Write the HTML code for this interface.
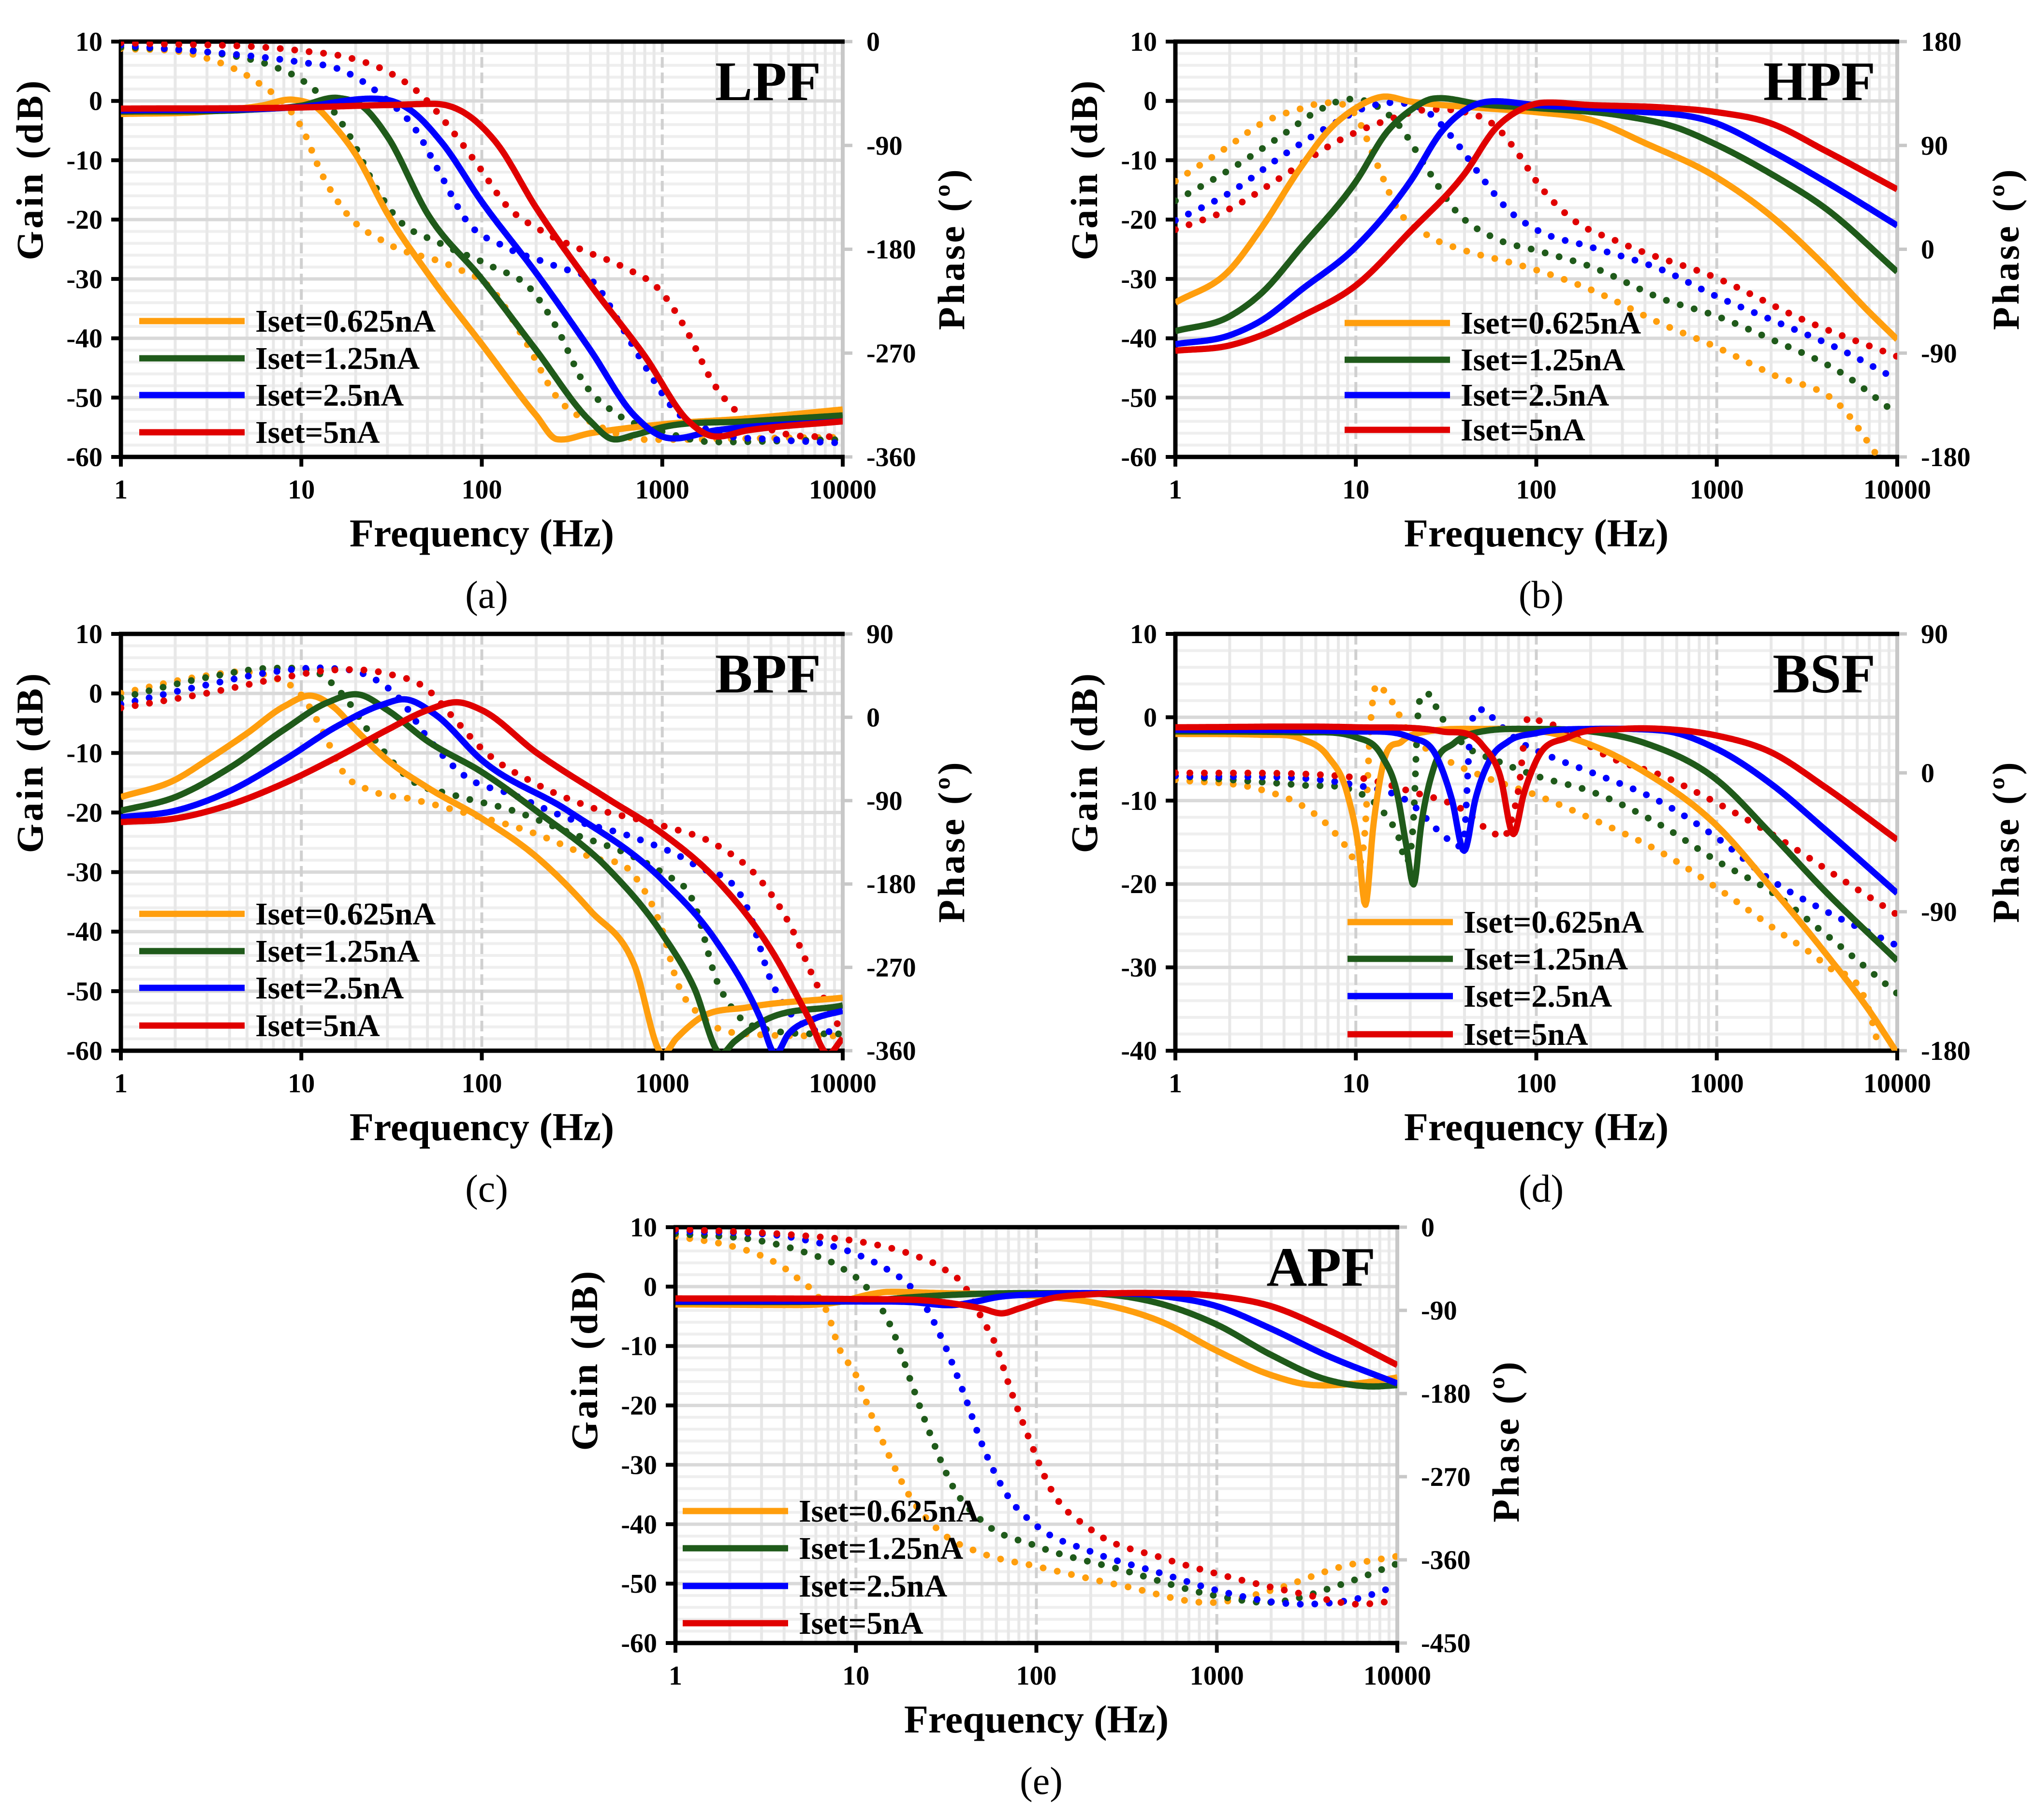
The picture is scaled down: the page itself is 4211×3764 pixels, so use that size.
<!DOCTYPE html>
<html><head><meta charset="utf-8"><style>
html,body{margin:0;padding:0;background:#fff;}
svg{display:block;}
text{font-family:"Liberation Serif",serif;}
</style></head><body>
<svg id="fig" xmlns="http://www.w3.org/2000/svg" width="4211" height="3764" viewBox="0 0 4211 3764"></svg>
<script>
// ===== Data arrays (frequency Hz, value) =====
const seriesLabels = ["Iset=0.625nA","Iset=1.25nA","Iset=2.5nA","Iset=5nA"];
const xTickLabels = ["1","10","100","1000","10000"];

// LPF gain (dB)
const lpfGain0 = [[1,-2.2],[3,-1.8],[6,-0.8],[9,0.2],[12,-1],[15,-4],[20,-9],[30,-19],[50,-29],[100,-41],[200,-53],[260,-57],[400,-56],[1000,-54.5],[3000,-53.5],[10000,-52]];
const lpfGain1 = [[1,-1.8],[5,-1.5],[10,-0.8],[16,0.5],[22,-1],[30,-6],[50,-19],[100,-30],[200,-42],[400,-54],[530,-57],[700,-56.3],[1000,-55],[3000,-54],[10000,-53]];
const lpfGain2 = [[1,-1.6],[10,-1],[28,0.3],[40,-1.5],[60,-7],[100,-17],[200,-29],[400,-42],[700,-53],[1070,-56.8],[2000,-55.5],[10000,-54]];
const lpfGain3 = [[1,-1.3],[10,-1.1],[30,-0.7],[55,-0.5],[80,-2],[120,-7],[200,-18],[400,-31],[800,-43],[1400,-54],[1900,-56.5],[3000,-55.5],[10000,-54]];
// LPF phase (deg)
const lpfPhase0 = [[1,-6],[2.5,-11],[5.8,-36],[8.5,-58],[10,-74],[13,-115],[17.6,-148],[30,-175],[69,-195],[114,-215],[172,-258],[260,-308],[430,-332],[830,-345],[10000,-343]];
const lpfPhase1 = [[1,-5],[3,-9],[7.4,-23],[10,-33],[13,-48],[18.4,-81],[25.6,-125],[33,-151],[59,-175],[114,-195],[188,-215],[260,-248],[365,-295],[550,-322],[1000,-338],[1900,-347],[10000,-345]];
const lpfPhase2 = [[1,-3],[10,-18],[15.6,-23],[30,-51],[42,-74],[59,-115],[82,-155],[135,-178],[260,-195],[430,-211],[600,-248],[830,-285],[1150,-318],[1900,-338],[4300,-345],[10000,-348]];
const lpfPhase3 = [[1,-1],[10,-8],[18.4,-14],[30,-26],[46,-46],[69,-78],[99,-111],[135,-141],[220,-165],[365,-181],[600,-195],[1000,-218],[1370,-251],[1900,-295],[2640,-322],[4300,-338],[10000,-343]];

// HPF gain
const hpfGain0 = [[1,-34],[2,-28.5],[3,-21.4],[5,-11],[7,-5.1],[10,-1.2],[14,0.7],[20,-0.1],[50,-1.2],[100,-1.9],[200,-3.2],[400,-7.1],[1000,-12.9],[2000,-19.4],[4000,-27.9],[7000,-35.6],[10000,-40.2]];
const hpfGain1 = [[1,-38.8],[2,-36.3],[3,-32.4],[5,-24.6],[10,-13.6],[15,-5.1],[20,-1.6],[27,0.4],[50,-0.6],[100,-1.2],[300,-2.5],[600,-4.5],[1000,-7.4],[2000,-12.3],[4000,-18.1],[10000,-28.8]];
const hpfGain2 = [[1,-41],[2,-39.5],[3,-37],[5,-31.8],[10,-24.6],[20,-13.6],[30,-5.1],[40,-1.6],[55,-0.1],[100,-0.7],[300,-1.6],[1000,-3.8],[2000,-8.4],[4000,-13.6],[10000,-21]];
const hpfGain3 = [[1,-42.1],[2,-41.2],[3,-39.5],[5,-36.3],[10,-31.1],[20,-22],[40,-12.3],[60,-4.5],[80,-1.6],[110,-0.3],[200,-0.7],[500,-1.1],[1000,-1.9],[2000,-3.8],[4000,-8.4],[10000,-14.9]];
// HPF phase
const hpfPhase0 = [[1,59],[2,90],[3,109],[5,122],[7,127],[10,116],[13,75],[17,35],[25,12],[40,-1],[70,-11],[100,-18],[200,-35],[500,-65],[1000,-85],[2000,-108],[5000,-138],[8000,-182]];
const hpfPhase1 = [[1,42],[2,69],[4,100],[6,119],[9,130],[12,127],[17,109],[25,69],[35,35],[60,9],[100,-1],[200,-15],[500,-43],[1000,-58],[2000,-78],[5000,-108],[10000,-143]];
const hpfPhase2 = [[1,25],[2,49],[4,82],[7,106],[12,124],[17,127],[25,119],[35,95],[50,62],[70,34],[100,17],[200,2],[500,-18],[1000,-41],[2000,-61],[5000,-88],[10000,-113]];
const hpfPhase3 = [[1,17],[2,35],[4,64],[8,94],[15,112],[25,121],[40,119],[60,106],[80,82],[100,59],[150,29],[300,5],[1000,-25],[3000,-61],[10000,-93]];

// BPF gain
const bpfGain0 = [[1,-17.4],[2,-14.5],[3,-11.2],[5,-6.7],[8,-2.2],[11.5,-0.4],[15,-2.2],[20,-6.1],[30,-11.2],[50,-15.8],[100,-21],[200,-27.4],[400,-36.5],[700,-45.6],[1000,-60.5],[1200,-57.9],[1600,-54.6],[3000,-52.7],[10000,-51.1]];
const bpfGain1 = [[1,-19.7],[2,-17.4],[4,-12.5],[8,-6.1],[14,-1.5],[21,-0.2],[30,-2.8],[50,-8],[100,-13.2],[200,-19.7],[500,-29.4],[1000,-40.4],[1500,-49.4],[2100,-60.5],[2500,-58.5],[3500,-55.3],[10000,-52.4]];
const bpfGain2 = [[1,-20.8],[2,-19.7],[4,-16.4],[8,-11.2],[16,-5.4],[28,-1.9],[38,-1],[55,-3.5],[100,-11.2],[300,-19.7],[1000,-31.3],[2000,-41.7],[3500,-54.6],[4200,-60.5],[5000,-57.2],[7000,-54.6],[10000,-53.3]];
const bpfGain3 = [[1,-21.6],[2,-21],[4,-18.7],[8,-15.1],[16,-10.6],[30,-6.1],[50,-2.8],[75,-1.5],[100,-2.8],[200,-9.9],[500,-17.7],[1000,-23.5],[2000,-31.3],[4000,-43],[6500,-54.6],[8200,-60.5],[10000,-57.9]];
// BPF phase
const bpfPhase0 = [[1,26],[3,45],[5,49],[7,43],[10,24],[13,-13],[17,-59],[25,-80],[40,-88],[80,-103],[200,-126],[400,-151],[700,-171],[1000,-230],[1200,-284],[1700,-325],[3000,-342],[10000,-344]];
const bpfPhase1 = [[1,21],[3,43],[7,53],[12,49],[17,24],[25,-22],[40,-67],[70,-84],[150,-101],[300,-124],[700,-151],[1000,-168],[1500,-201],[2000,-284],[2500,-317],[4000,-338],[10000,-342]];
const bpfPhase2 = [[1,14],[3,35],[7,49],[14,53],[22,47],[35,20],[50,-22],[80,-63],[150,-84],[300,-109],[700,-130],[1500,-159],[3000,-209],[4000,-284],[5000,-317],[7000,-338],[10000,-338]];
const bpfPhase3 = [[1,10],[3,26],[8,43],[15,51],[30,47],[50,30],[70,-1],[100,-34],[200,-72],[400,-97],[1000,-117],[2000,-138],[3500,-176],[5000,-221],[7000,-284],[10000,-342]];

// BSF gain
const bsfGain0 = [[1,-2],[3,-2.1],[5,-2.6],[7,-4.7],[9,-9.3],[10.3,-15.3],[11.3,-22.5],[12.5,-13],[14,-6.1],[18,-2.9],[25,-1.7],[50,-1.4],[100,-1.6],[200,-3.3],[400,-6.6],[1000,-13],[2000,-20.4],[4000,-28.3],[7000,-35.2],[10000,-40.3]];
const bsfGain1 = [[1,-1.7],[5,-1.8],[10,-2.4],[14,-4.7],[17,-9.3],[19,-15.3],[21,-20],[23,-13],[27,-6.1],[35,-3.1],[50,-1.7],[100,-1.4],[200,-1.7],[400,-3.1],[1000,-7.5],[2000,-14],[4000,-20.9],[10000,-29.2]];
const bsfGain2 = [[1,-1.5],[10,-1.7],[20,-2.4],[28,-4.7],[34,-9.8],[40,-16],[46,-9.8],[55,-5.2],[70,-2.9],[100,-1.9],[200,-1.4],[500,-1.6],[1000,-3.8],[2000,-8],[4000,-13.5],[10000,-21.1]];
const bsfGain3 = [[1,-1.2],[10,-1.2],[30,-1.7],[50,-3.3],[63,-7],[75,-14],[85,-9.3],[100,-5.2],[150,-2.4],[300,-1.4],[500,-1.4],[1000,-2.2],[2000,-4.2],[4000,-8.4],[10000,-14.7]];
// BSF phase
const bsfPhase0 = [[1,-4.5],[3,-11],[5,-21],[7,-34],[9,-49],[10.5,-59],[11.3,-34],[12,28],[13,57],[15,50],[20,25],[30,10],[50,-2],[100,-14.5],[200,-29.5],[500,-52],[1000,-74.5],[2000,-99.5],[4000,-124.5],[7000,-154.5],[8000,-180]];
const bsfPhase1 = [[1,-2],[5,-8],[10,-12],[14,-24.5],[17,-39.5],[19.5,-57],[21,-24.5],[22,35.5],[24,50.5],[30,35.5],[40,18],[60,8],[100,-2],[200,-12],[500,-34.5],[1000,-57],[2000,-77],[4000,-104.5],[10000,-143]];
const bsfPhase2 = [[1,-2],[10,-8],[20,-19.5],[30,-39.5],[38,-47],[40,-39.5],[43,25.5],[50,41],[60,33],[80,20.5],[120,10.5],[200,0.5],[500,-19.5],[1000,-42],[2000,-69.5],[4000,-89.5],[10000,-112]];
const bsfPhase3 = [[1,0],[10,-3],[20,-12],[40,-24.5],[55,-37],[70,-37],[80,-9.5],[90,36],[110,33],[150,25.5],[250,10.5],[500,-2],[1000,-19.5],[2000,-39.5],[5000,-69.5],[10000,-92]];

// APF gain
const apfGain0 = [[1,-3],[5,-3.1],[8,-2.6],[12,-1.3],[15,-0.9],[30,-1.1],[100,-1.6],[200,-2.6],[500,-6],[1000,-10.8],[2000,-14.9],[3500,-16.6],[6000,-16.3],[10000,-15.3]];
const apfGain1 = [[1,-2.6],[10,-2.5],[20,-1.8],[40,-1.3],[100,-1.1],[300,-1.6],[600,-3.7],[1000,-6.4],[2000,-11.5],[4000,-15.6],[7000,-16.8],[10000,-16.6]];
const apfGain2 = [[1,-2.5],[10,-2.5],[20,-2.6],[35,-3.1],[45,-2.6],[60,-1.8],[100,-1.3],[200,-1.1],[500,-1.6],[1000,-3.3],[2000,-7.1],[4000,-11.5],[10000,-16.3]];
const apfGain3 = [[1,-2],[10,-2.1],[30,-2.6],[50,-3.7],[65,-4.5],[80,-3.7],[120,-2],[200,-1.3],[500,-1.1],[1000,-1.6],[2000,-3.3],[4000,-7.1],[10000,-13.2]];
// APF phase
const apfPhase0 = [[1,-10],[2,-20],[3,-31],[4,-44],[5,-59],[6,-72],[7,-94],[8,-129],[10,-160],[12,-200],[15,-244],[20,-292],[30,-331],[50,-353],[100,-367],[300,-388],[1000,-406],[2000,-393],[5000,-367],[10000,-356]];
const apfPhase1 = [[1,-7],[3,-15],[5,-26],[8,-42],[12,-70],[16,-112],[20,-165],[25,-217],[35,-283],[50,-318],[100,-345],[300,-371],[1000,-399],[2000,-406],[5000,-386],[10000,-364]];
const apfPhase2 = [[1,-4],[5,-13],[10,-29],[15,-46],[20,-64],[25,-90],[30,-121],[40,-182],[50,-235],[70,-292],[100,-323],[200,-351],[500,-375],[1000,-393],[3000,-408],[6000,-402],[10000,-388]];
const apfPhase3 = [[1,-2],[5,-9],[10,-15],[20,-29],[30,-44],[40,-64],[50,-99],[60,-129],[70,-169],[90,-226],[120,-283],[200,-327],[500,-358],[1000,-375],[3000,-397],[6000,-408],[10000,-404]];

// ===== Rendering =====
const NS = "http://www.w3.org/2000/svg";
const svg = document.getElementById("fig");
const colors = ["#ff9e0d","#1f5a1a","#0000ff","#e00000"];

function mk(tag, attrs, parent) {
  const e = document.createElementNS(NS, tag);
  for (const k in attrs) e.setAttribute(k, attrs[k]);
  (parent || svg).appendChild(e);
  return e;
}

// smooth cubic Hermite interpolation in (log10 f, v)
function sample(pts, n) {
  const xs = pts.map(p => Math.log10(p[0])), ys = pts.map(p => p[1]);
  const m = xs.length, d = [], h = [], t = [];
  for (let i = 0; i < m - 1; i++) { h.push(xs[i+1]-xs[i]); d.push((ys[i+1]-ys[i])/h[i]); }
  t[0] = d[0]; t[m-1] = d[m-2];
  for (let i = 1; i < m - 1; i++) t[i] = (d[i-1]*h[i] + d[i]*h[i-1]) / (h[i-1] + h[i]);
  // light clamp to avoid large overshoot near sharp notches
  for (let i = 0; i < m - 1; i++) {
    if (d[i] === 0) continue;
    const a = t[i]/d[i], b = t[i+1]/d[i];
    if (a < -1) t[i] = -d[i];
    if (b < -1) t[i+1] = -d[i];
    const s = a*a + b*b;
    if (s > 16) { const k = 4/Math.sqrt(s); t[i] *= k; t[i+1] *= k; }
  }
  const out = [];
  for (let j = 0; j <= n; j++) {
    const x = xs[0] + (xs[m-1]-xs[0]) * j / n;
    let i = 0; while (i < m - 2 && x > xs[i+1]) i++;
    const hh = h[i], u = (x - xs[i]) / hh;
    const h00 = 2*u*u*u - 3*u*u + 1, h10 = u*u*u - 2*u*u + u, h01 = -2*u*u*u + 3*u*u, h11 = u*u*u - u*u;
    out.push([x, h00*ys[i] + h10*hh*t[i] + h01*ys[i+1] + h11*hh*t[i+1]]);
  }
  return out;
}

const panels = [
  {id:"lpf", title:"LPF", cap:"(a)", L:250, R:1743, T:86, B:945, gMin:-60, gMax:10, pMin:-360, pMax:0, pStep:90,
   gains:[lpfGain0,lpfGain1,lpfGain2,lpfGain3], phases:[lpfPhase0,lpfPhase1,lpfPhase2,lpfPhase3], legY:[664,741,817,894], legX:288, gainCY:350, phaseCY:514},
  {id:"hpf", title:"HPF", cap:"(b)", L:2431, R:3924, T:86, B:945, gMin:-60, gMax:10, pMin:-180, pMax:180, pStep:90,
   gains:[hpfGain0,hpfGain1,hpfGain2,hpfGain3], phases:[hpfPhase0,hpfPhase1,hpfPhase2,hpfPhase3], legY:[668,744,817,889], legX:2781, gainCY:350, phaseCY:514},
  {id:"bpf", title:"BPF", cap:"(c)", L:250, R:1743, T:1311, B:2173, gMin:-60, gMax:10, pMin:-360, pMax:90, pStep:90,
   gains:[bpfGain0,bpfGain1,bpfGain2,bpfGain3], phases:[bpfPhase0,bpfPhase1,bpfPhase2,bpfPhase3], legY:[1890,1967,2043,2121], legX:288, gainCY:1576, phaseCY:1740},
  {id:"bsf", title:"BSF", cap:"(d)", L:2431, R:3924, T:1311, B:2173, gMin:-40, gMax:10, pMin:-180, pMax:90, pStep:90,
   gains:[bsfGain0,bsfGain1,bsfGain2,bsfGain3], phases:[bsfPhase0,bsfPhase1,bsfPhase2,bsfPhase3], legY:[1907,1983,2060,2139], legX:2787, gainCY:1576, phaseCY:1740},
  {id:"apf", title:"APF", cap:"(e)", L:1397, R:2890, T:2538, B:3398, gMin:-60, gMax:10, pMin:-450, pMax:0, pStep:90,
   gains:[apfGain0,apfGain1,apfGain2,apfGain3], phases:[apfPhase0,apfPhase1,apfPhase2,apfPhase3], legY:[3125,3202,3280,3357], legX:1412, gainCY:2812, phaseCY:2980}
];

const defs = mk("defs", {});
panels.forEach(p => {
  const g = mk("g", {});
  
  
  const W = p.R - p.L, H = p.B - p.T;
  const xs = f => p.L + Math.log10(f) / 4 * W;
  const xl = lf => p.L + lf / 4 * W;
  const yg = v => p.B - (v - p.gMin) / (p.gMax - p.gMin) * H;
  const yp = v => p.B - (v - p.pMin) / (p.pMax - p.pMin) * H;

  const cp = mk("clipPath", {id: "clip-" + p.id}, defs);
  mk("rect", {x:p.L, y:p.T, width:W, height:H}, cp);

  const grid = mk("g", {}, g);
  
  
  for (let v = p.gMin; v <= p.gMax; v += 2) {
    if (v % 10 === 0) continue;
    mk("line", {x1:p.L, x2:p.R, y1:yg(v), y2:yg(v), stroke:"#efefef", "stroke-width":6}, grid);
  }
  for (let d = 0; d < 4; d++) for (let k = 2; k <= 9; k++) {
    const x = xs(k * Math.pow(10, d));
    mk("line", {x1:x, x2:x, y1:p.T, y2:p.B, stroke:"#e8e8e8", "stroke-width":6}, grid);
  }
  for (let v = p.gMin + 10; v < p.gMax; v += 10)
    mk("line", {x1:p.L, x2:p.R, y1:yg(v), y2:yg(v), stroke:"#d9d9d9", "stroke-width":7}, grid);
  for (let d = 1; d < 4; d++) {
    const x = xs(Math.pow(10, d));
    mk("line", {x1:x, x2:x, y1:p.T, y2:p.B, stroke:"#d0d0d0", "stroke-width":6, "stroke-dasharray":"22 10"}, grid);
  }

  mk("line", {x1:p.R, x2:p.R, y1:p.T, y2:p.B, stroke:"#c8c8c8", "stroke-width":8}, g);
  for (let v = p.pMin; v <= p.pMax; v += p.pStep)
    mk("line", {x1:p.R, x2:p.R + 20, y1:yp(v), y2:yp(v), stroke:"#c8c8c8", "stroke-width":7}, g);
  mk("line", {x1:p.L - 4, x2:p.R + 4, y1:p.T, y2:p.T, stroke:"#000", "stroke-width":9}, g);
  mk("line", {x1:p.L - 4, x2:p.R + 4, y1:p.B, y2:p.B, stroke:"#000", "stroke-width":9}, g);
  mk("line", {x1:p.L, x2:p.L, y1:p.T, y2:p.B, stroke:"#000", "stroke-width":9}, g);
  for (let v = p.gMin; v <= p.gMax; v += 10)
    mk("line", {x1:p.L - 20, x2:p.L, y1:yg(v), y2:yg(v), stroke:"#000", "stroke-width":8}, g);
  for (let d = 0; d <= 4; d++)
    mk("line", {x1:xl(d), x2:xl(d), y1:p.B, y2:p.B + 20, stroke:"#000", "stroke-width":8}, g);

  for (let v = p.gMin; v <= p.gMax; v += 10) {
    const t = mk("text", {x:p.L - 38, y:yg(v) + 19, "text-anchor":"end", "font-size":56, "font-weight":"bold"}, g);
    
    
    t.textContent = v;
  }
  for (let v = p.pMin; v <= p.pMax; v += p.pStep) {
    const t = mk("text", {x:p.R + 49, y:yp(v) + 19, "text-anchor":"start", "font-size":56, "font-weight":"bold"}, g);
    
    
    t.textContent = v;
  }
  xTickLabels.forEach((lab, i) => {
    const t = mk("text", {x:xl(i), y:p.B + 86, "text-anchor":"middle", "font-size":56, "font-weight":"bold"}, g);
    
    
    t.textContent = lab;
  });

  const xt = mk("text", {x:(p.L + p.R) / 2, y:p.B + 185, "text-anchor":"middle", "font-size":82, "font-weight":"bold"}, g);
  
  
  xt.textContent = "Frequency (Hz)";
  const gx = p.L - 190;
  const gt = mk("text", {x:gx, y:p.gainCY, "text-anchor":"middle", "font-size":78, "font-weight":"bold", "letter-spacing":"5", transform:`rotate(-90 ${gx} ${p.gainCY})`, dy:"28"}, g);
  
  
  gt.textContent = "Gain (dB)";
  const px = p.R + 223;
  const pt = mk("text", {x:px, y:p.phaseCY, "text-anchor":"middle", "font-size":78, "font-weight":"bold", "letter-spacing":"5", transform:`rotate(-90 ${px} ${p.phaseCY})`, dy:"28"}, g);
  
  
  pt.textContent = "Phase (º)";
  const cap = mk("text", {x:(p.L + p.R) / 2 + 10, y:p.B + 312, "text-anchor":"middle", "font-size":80}, g);
  
  
  cap.textContent = p.cap;
  const ttl = mk("text", {x:p.R - 45, y:p.T + 121, "text-anchor":"end", "font-size":116, "font-weight":"bold"}, g);
  
  
  ttl.textContent = p.title;

  const plot = mk("g", {"clip-path": `url(#clip-${p.id})`}, g);
  p.phases.forEach((s, i) => {
    const pts = sample(s, 600).map(q => `${xl(q[0]).toFixed(1)},${yp(q[1]).toFixed(1)}`).join(" ");
    const pl = mk("polyline", {points:pts, fill:"none", stroke:colors[i], "stroke-width":14, "stroke-linecap":"round", "stroke-dasharray":"0 30"}, plot);
    
    
  });
  p.gains.forEach((s, i) => {
    const pts = sample(s, 600).map(q => `${xl(q[0]).toFixed(1)},${yg(q[1]).toFixed(1)}`).join(" ");
    const pl = mk("polyline", {points:pts, fill:"none", stroke:colors[i], "stroke-width":13, "stroke-linejoin":"round"}, plot);
    
    
  });

  const leg = mk("g", {}, g);
  
  
  seriesLabels.forEach((lab, i) => {
    const y = p.legY[i];
    const ln = mk("line", {x1:p.legX, x2:p.legX + 218, y1:y, y2:y, stroke:colors[i], "stroke-width":13}, leg);
    
    
    const t = mk("text", {x:p.legX + 240, y:y + 22, "font-size":66, "font-weight":"bold"}, leg);
    
    
    t.textContent = lab;
  });
});
</script>
</body></html>
